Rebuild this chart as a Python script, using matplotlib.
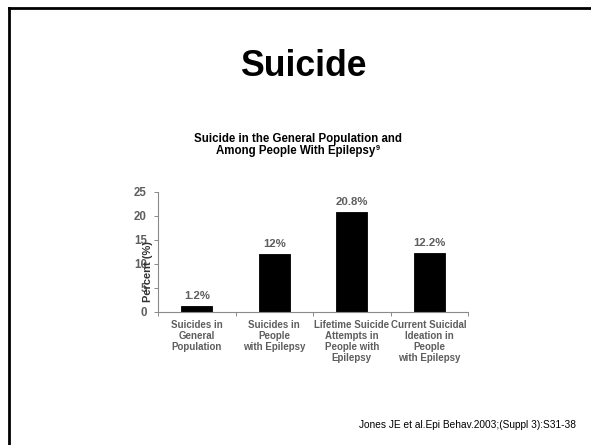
import matplotlib
matplotlib.use("Agg")
import matplotlib.pyplot as plt
from matplotlib.lines import Line2D

plt.rcParams['font.family'] = ['Liberation Sans', 'DejaVu Sans']

categories = [
    "Suicides in\nGeneral\nPopulation",
    "Suicides in\nPeople\nwith Epilepsy",
    "Lifetime Suicide\nAttempts in\nPeople with\nEpilepsy",
    "Current Suicidal\nIdeation in\nPeople\nwith Epilepsy",
]
values = [1.2, 12.0, 20.8, 12.2]
value_labels = ["1.2%", "12%", "20.8%", "12.2%"]
y_ticks = [0, 5, 10, 15, 20, 25]

W, H = 591, 445
fig = plt.figure(figsize=(W / 100, H / 100), dpi=100)
fig.patch.set_facecolor("white")

GRAY = "#5e5e5e"
AXIS = "#8a8a8a"

# slide frame (left and top edges)
fig.add_artist(Line2D([8.5 / W, 8.5 / W], [0, 1 - 8 / H], transform=fig.transFigure,
                      color="black", lw=2.0, solid_capstyle="projecting"))
fig.add_artist(Line2D([8.5 / W, 1], [1 - 8 / H, 1 - 8 / H], transform=fig.transFigure,
                      color="black", lw=2.0, solid_capstyle="projecting"))

# slide heading
fig.text(303.5 / W, 1 - 76 / H, "Suicide", ha="center", va="baseline",
         fontsize=25.7, fontweight="bold", color="black")

# chart heading
fig.text(298 / W, 1 - 142 / H, "Suicide in the General Population and",
         ha="center", va="baseline", fontsize=8.3, fontweight="bold", color="black")
line2 = fig.text(296 / W, 1 - 154 / H, "Among People With Epilepsy",
                 ha="center", va="baseline", fontsize=8.3, fontweight="bold", color="black")
fig.canvas.draw()
bb = line2.get_window_extent()
fig.text((bb.x1 + 0.5) / W, 1 - 150 / H, "9", ha="left", va="baseline",
         fontsize=5.2, fontweight="bold", color="black")

# bar chart
ax = fig.add_axes([158 / W, 1 - 311.7 / H, 310 / W, 120 / H])
x = list(range(len(categories)))
bars = ax.bar(x, values, width=0.4, color="black", edgecolor="black", linewidth=0.6)
ax.bar_label(bars, labels=value_labels, padding=3.5, fontsize=8.2,
             fontweight="bold", color=GRAY)

ax.set_xlim(-0.5, len(categories) - 0.5)
ax.set_ylim(0, 25)
ax.set_yticks(y_ticks)
ax.set_yticklabels([str(t) for t in y_ticks], fontsize=8.3, fontweight="bold", color=GRAY)
ax.set_xticks(x)
ax.set_xticklabels(categories, fontsize=7.0, fontweight="bold", color=GRAY,
                   linespacing=1.12)
ax.set_xticks([i - 0.5 for i in range(len(categories) + 1)], minor=True)
ax.tick_params(axis="x", which="major", length=0, pad=6)
ax.tick_params(axis="x", which="minor", length=3, width=0.7, color=AXIS, direction="out")
ax.tick_params(axis="y", length=3, width=0.7, color=AXIS, direction="out", pad=5)

for side in ("top", "right"):
    ax.spines[side].set_visible(False)
for side in ("left", "bottom"):
    ax.spines[side].set_color(AXIS)
    ax.spines[side].set_linewidth(0.8)
ax.set_facecolor("none")

fig.text(148 / W, 1 - 272 / H, "Percent (%)", rotation=90, ha="center", va="center",
         fontsize=8.0, fontweight="bold", color="#333333")

# source note
fig.text(576 / W, 1 - 428 / H, "Jones JE et al.Epi Behav.2003;(Suppl 3):S31-38",
         ha="right", va="baseline", fontsize=7.3, color="black")

fig.savefig("out.png", dpi=100, facecolor="white")
